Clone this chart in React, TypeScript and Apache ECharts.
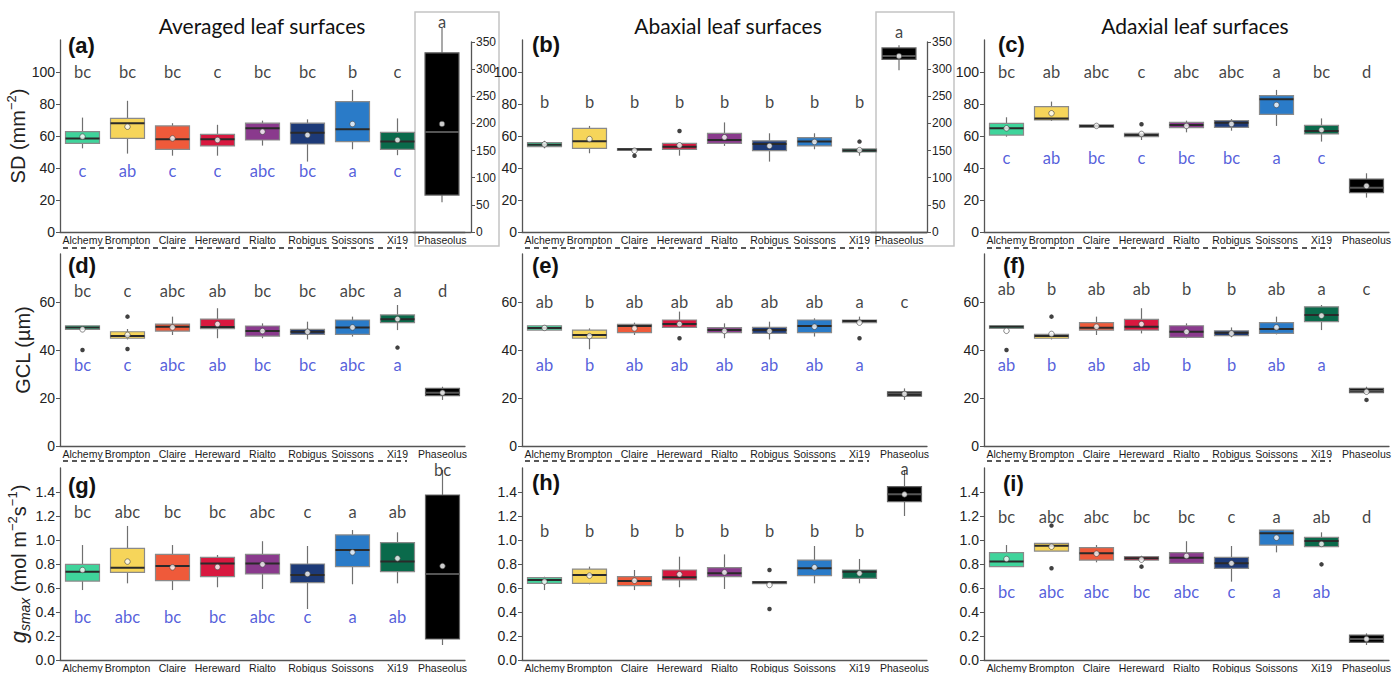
import React, { useEffect, useRef } from 'react';
import * as echarts from 'echarts';

const CATEGORIES = ['Alchemy', 'Brompton', 'Claire', 'Hereward', 'Rialto', 'Robigus', 'Soissons', 'Xi19', 'Phaseolus'];
const COLORS = ['#3fd49b', '#f6d55a', '#ef5a3a', '#d8183f', '#8a3a8d', '#1d3a78', '#2a7bc8', '#0a6a4b', '#000000'];

// Box statistics per category: [min, Q1, median, Q3, max]
const A_BOX = [[52.3, 55.4, 58.5, 62.7, 71.5], [49, 58.5, 68, 71, 82], [47.7, 51.7, 58, 66.3, 68], [47.7, 53.8, 58, 61, 67], [54, 57.5, 64.8, 68, 69.6], [44, 55, 62, 68, 70.4], [51.7, 56.5, 64.2, 81.5, 88.8], [48, 51.7, 56.5, 62.3, 71], [55, 68, 184, 330, 376]];
const A_MEAN = [59.6, 65.8, 58.5, 57.5, 62.7, 60.6, 67.5, 57.5, 199];
const A_OUT: number[][] = [];
const A_TOP = ['bc', 'bc', 'bc', 'c', 'bc', 'bc', 'b', 'c', 'a'];
const A_BOT = ['c', 'ab', 'c', 'c', 'abc', 'bc', 'a', 'c'];

const B_BOX = [[52.3, 53.3, 54.6, 55.8, 57], [49.2, 52.3, 56.7, 64.8, 66.3], [51, 51, 51.7, 52.1, 52.1], [47.7, 51.7, 53.3, 55.4, 55.4], [53.8, 55.4, 57.5, 61.7, 68.5], [44, 50.8, 55, 57, 61.7], [51.7, 53.8, 56.5, 59, 61.7], [47.7, 50, 51, 51.9, 51.9], [298, 318, 324, 339, 344]];
const B_MEAN = [54.8, 58.1, 50.8, 54.2, 59.2, 53.8, 56.3, 51.2, 324];
const B_OUT = [[2, 47.7], [3, 63.1], [7, 56.5]];
const B_TOP = ['b', 'b', 'b', 'b', 'b', 'b', 'b', 'b', 'a'];
const B_BOT: string[] = [];

const C_BOX = [[59.6, 60.6, 64.8, 67.9, 71.7], [69.4, 70, 71, 78.3, 81.5], [65, 65.4, 66.3, 66.9, 67.3], [57.5, 59.6, 60.6, 61.7, 61.7], [62.3, 65.2, 66.9, 68.5, 69.6], [63.3, 65.4, 68.3, 69.6, 70.6], [66.3, 73.5, 82.9, 85.2, 88.8], [56.5, 61.3, 63.1, 66.7, 71], [21.5, 24.6, 27.7, 33.1, 36.7]];
const C_MEAN = [64.8, 74.2, 66.3, 61.3, 66.3, 67.5, 79.4, 63.8, 28.8];
const C_OUT = [[3, 67.3]];
const C_TOP = ['bc', 'ab', 'abc', 'c', 'abc', 'abc', 'a', 'bc', 'd'];
const C_BOT = ['c', 'ab', 'bc', 'c', 'bc', 'bc', 'a', 'c'];

const D_BOX = [[48.6, 48.6, 49.4, 50.1, 50.1], [44.4, 44.9, 45.8, 47.6, 48.75], [46.25, 47.9, 49.7, 50.8, 53.9], [44.9, 48.9, 49.6, 52.9, 57.4], [44.9, 45.8, 47.9, 50, 51.1], [44.4, 46.5, 47.6, 48.6, 51.8], [45.6, 46.5, 49.4, 52.5, 53.9], [48.3, 51.4, 52.8, 54.6, 58.75], [19.2, 21, 22.2, 24, 24.7]];
const D_MEAN = [48.6, 46.3, 49.4, 50.8, 47.9, 47.6, 49.4, 52.9, 22.2];
const D_OUT = [[0, 40], [1, 53.9], [1, 40.4], [7, 41]];
const D_TOP = ['bc', 'c', 'abc', 'ab', 'bc', 'bc', 'abc', 'a', 'd'];
const D_BOT = ['bc', 'c', 'abc', 'ab', 'bc', 'bc', 'abc', 'a'];

const E_BOX = [[48, 48.3, 49.2, 50.1, 50.4], [40.3, 44.9, 46.25, 48.3, 49], [46.25, 47.2, 50, 50.7, 51.4], [49.4, 49.4, 50.8, 52.5, 56], [44.9, 47.2, 48.3, 49.3, 51.1], [44.4, 46.9, 48.3, 49.4, 51.8], [45.6, 47.2, 50, 52.5, 53.2], [51.4, 51.4, 52.1, 52.5, 53.9], [19.2, 20.8, 21.9, 22.6, 24]];
const E_MEAN = [49.2, 45.8, 49, 50.8, 47.9, 47.9, 49.7, 51.4, 21.7];
const E_OUT = [[3, 44.9], [7, 44.9]];
const E_TOP = ['ab', 'b', 'ab', 'ab', 'ab', 'ab', 'ab', 'a', 'c'];
const E_BOT = ['ab', 'b', 'ab', 'ab', 'ab', 'ab', 'ab', 'a'];

const F_BOX = [[49, 49, 49.7, 50.1, 50.1], [44.4, 44.9, 45.8, 46.5, 46.9], [46.25, 48.3, 49.3, 51.4, 53.9], [46.9, 48.3, 49.7, 52.8, 57.4], [44.9, 45.3, 47.6, 50.1, 51.1], [45.3, 46, 47.2, 48, 49.4], [46.5, 46.9, 48.75, 51.4, 53.9], [48.3, 51.8, 54.6, 58, 58.75], [22.2, 22.2, 23, 24, 24.7]];
const F_MEAN = [48, 46.7, 49.7, 50.8, 47.6, 46.9, 49.4, 54.3, 22.6];
const F_OUT = [[0, 40], [1, 53.9], [8, 19.2]];
const F_TOP = ['ab', 'b', 'ab', 'ab', 'b', 'b', 'ab', 'a', 'c'];
const F_BOT = ['ab', 'b', 'ab', 'ab', 'b', 'b', 'ab', 'a'];

const G_BOX = [[0.583, 0.658, 0.736, 0.797, 0.958], [0.639, 0.73, 0.769, 0.93, 1.117], [0.583, 0.661, 0.783, 0.88, 0.958], [0.606, 0.694, 0.805, 0.855, 0.875], [0.592, 0.717, 0.805, 0.88, 0.99], [0.425, 0.644, 0.708, 0.8, 0.95], [0.631, 0.778, 0.917, 1.042, 1.083], [0.639, 0.736, 0.82, 0.978, 1.064], [0.125, 0.175, 0.717, 1.375, 1.583]];
const G_MEAN = [0.75, 0.82, 0.772, 0.775, 0.797, 0.717, 0.897, 0.847, 0.783];
const G_OUT: number[][] = [];
const G_TOP = ['bc', 'abc', 'bc', 'bc', 'abc', 'c', 'a', 'ab', 'bc'];
const G_BOT = ['bc', 'abc', 'bc', 'bc', 'abc', 'c', 'a', 'ab'];

const H_BOX = [[0.583, 0.639, 0.667, 0.686, 0.694], [0.631, 0.639, 0.708, 0.758, 0.778], [0.583, 0.619, 0.658, 0.694, 0.75], [0.606, 0.667, 0.689, 0.75, 0.861], [0.592, 0.694, 0.722, 0.769, 0.88], [0.636, 0.636, 0.647, 0.653, 0.653], [0.639, 0.703, 0.764, 0.833, 0.95], [0.639, 0.681, 0.736, 0.75, 0.842], [1.2, 1.319, 1.381, 1.444, 1.583]];
const H_MEAN = [0.653, 0.703, 0.661, 0.714, 0.73, 0.625, 0.772, 0.722, 1.38];
const H_OUT = [[5, 0.75], [5, 0.425]];
const H_TOP = ['b', 'b', 'b', 'b', 'b', 'b', 'b', 'b', 'a'];
const H_BOT: string[] = [];

const I_BOX = [[0.778, 0.778, 0.82, 0.894, 0.958], [0.908, 0.908, 0.953, 0.972, 0.972], [0.814, 0.833, 0.889, 0.936, 0.958], [0.833, 0.833, 0.847, 0.861, 0.869], [0.806, 0.806, 0.853, 0.894, 0.99], [0.653, 0.764, 0.806, 0.855, 0.95], [0.897, 0.958, 1.056, 1.083, 1.083], [0.944, 0.944, 0.992, 1.022, 1.064], [0.125, 0.147, 0.175, 0.208, 0.222]];
const I_MEAN = [0.842, 0.944, 0.886, 0.836, 0.867, 0.806, 1.019, 0.967, 0.175];
const I_OUT = [[1, 1.12], [1, 0.764], [3, 0.778], [7, 0.797]];
const I_TOP = ['bc', 'abc', 'abc', 'bc', 'bc', 'c', 'a', 'ab', 'd'];
const I_BOT = ['bc', 'abc', 'abc', 'bc', 'abc', 'c', 'a', 'ab'];

// Letter heights (data units): wheat top letters, Phaseolus top letter, bottom (blue) letters
const TOP_Y = [100, 81.5, 100, 64.7, 60, 65.4, 1.236, 1.075, 1.194];
const PHAS_Y = [387, 368, 100, 64.7, 60, 65.4, 1.585, 1.59, 1.194];
const BOT_Y = [38, 0, 46.5, 33.75, 33.75, 33.75, 0.361, 0, 0.569];

const ROW_MAX = [120, 80, 1.6];
const ROW_TICKS = [[0, 20, 40, 60, 80, 100], [0, 20, 40, 60], [0, 0.2, 0.4, 0.6, 0.8, 1.0, 1.2, 1.4]];
const INSET_MAX = 350;
const INSET_TICKS = [0, 50, 100, 150, 200, 250, 300, 350];

const TITLES = ['Averaged leaf surfaces', 'Abaxial leaf surfaces', 'Adaxial leaf surfaces'];
const TAGS = ['(a)', '(b)', '(c)', '(d)', '(e)', '(f)', '(g)', '(h)', '(i)'];

// Layout
const ROW_TOPS = [40, 254, 468];
const ROW_H = 192;
const COL_LEFTS = [60, 522, 984];
const COL_W = 405;
const INSETS = [{ left: 413, width: 58 }, { left: 871, width: 56 }];
const INSET_RECTS = [[415, 12, 84, 234], [876, 12, 78, 234]];
const TITLE_X = [262, 728, 1195];
const TAG_POS = [[68, 45], [532, 44], [998, 44], [68, 265], [532, 265], [1003, 265], [68, 485], [532, 482], [1003, 483]];
const BOX_W = 34;
const BLUE = '#2a36d2';
const AXIS_C = '#555';
const LETTER_FONT = 'Lato';
const TICK_FONT = '"Liberation Sans", Arial, sans-serif';
const CAT_FONT = '"Liberation Sans", Arial, sans-serif';

const Y_NAMES = [
  '{t|SD (mm}{s|−2}{t|)}',
  '{t|GCL (µm)}',
  '{g|g}{b|smax}{t| (mol m}{s|−2}{t|s}{s|−1}{t|)}',
];

const PANELS = [
  { box: A_BOX, mean: A_MEAN, out: A_OUT, top: A_TOP, bot: A_BOT },
  { box: B_BOX, mean: B_MEAN, out: B_OUT, top: B_TOP, bot: B_BOT },
  { box: C_BOX, mean: C_MEAN, out: C_OUT, top: C_TOP, bot: C_BOT },
  { box: D_BOX, mean: D_MEAN, out: D_OUT, top: D_TOP, bot: D_BOT },
  { box: E_BOX, mean: E_MEAN, out: E_OUT, top: E_TOP, bot: E_BOT },
  { box: F_BOX, mean: F_MEAN, out: F_OUT, top: F_TOP, bot: F_BOT },
  { box: G_BOX, mean: G_MEAN, out: G_OUT, top: G_TOP, bot: G_BOT },
  { box: H_BOX, mean: H_MEAN, out: H_OUT, top: H_TOP, bot: H_BOT },
  { box: I_BOX, mean: I_MEAN, out: I_OUT, top: I_TOP, bot: I_BOT },
];

const renderBox = (params: any, api: any) => {
  const xi = api.value(0);
  const lo = api.coord([xi, api.value(1)]);
  const q1 = api.coord([xi, api.value(2)]);
  const md = api.coord([xi, api.value(3)]);
  const q3 = api.coord([xi, api.value(4)]);
  const hi = api.coord([xi, api.value(5)]);
  const ci = api.value(6);
  const black = ci === 8;
  const cx = lo[0];
  const hw = BOX_W / 2;
  const wStyle = { stroke: '#707070', lineWidth: 1.2 };
  return {
    type: 'group',
    children: [
      { type: 'line', shape: { x1: cx, y1: hi[1], x2: cx, y2: q3[1] }, style: wStyle },
      { type: 'line', shape: { x1: cx, y1: q1[1], x2: cx, y2: lo[1] }, style: wStyle },
      {
        type: 'rect',
        shape: { x: cx - hw, y: q3[1], width: hw * 2, height: Math.max(q1[1] - q3[1], 1.5) },
        style: { fill: COLORS[ci], stroke: black ? '#666' : '#8a8a8a', lineWidth: 1.2 },
      },
      {
        type: 'line',
        shape: { x1: cx - hw, y1: md[1], x2: cx + hw, y2: md[1] },
        style: { stroke: black ? '#555' : '#2a2a2a', lineWidth: 2 },
      },
    ],
  };
};

const fmtRow = (row: number) => (v: number) => (row === 2 ? v.toFixed(1) : String(v));

function letterSeries(xIdx: number, data: number[][], texts: string[], color: string) {
  return {
    type: 'scatter',
    xAxisIndex: xIdx,
    yAxisIndex: xIdx,
    data,
    symbol: 'circle',
    symbolSize: 1,
    itemStyle: { color: 'rgba(0,0,0,0)' },
    clip: false,
    silent: true,
    z: 4,
    label: {
      show: true,
      position: 'inside',
      formatter: (p: any) => texts[p.dataIndex],
      fontFamily: LETTER_FONT,
      fontSize: 16.5,
      color,
    },
  };
}

function meanSeries(xIdx: number, data: number[][]) {
  return {
    type: 'scatter',
    xAxisIndex: xIdx,
    yAxisIndex: xIdx,
    data,
    symbol: 'circle',
    symbolSize: 5.5,
    clip: false,
    silent: true,
    z: 5,
    itemStyle: { color: '#ffffff', borderColor: '#444', borderWidth: 0.8 },
  };
}

function buildOption() {
  const grid: any[] = [];
  const xAxis: any[] = [];
  const yAxis: any[] = [];
  const series: any[] = [];

  const catAxisBase = {
    type: 'category',
    axisLine: { lineStyle: { color: AXIS_C, width: 1.3 } },
    axisTick: { alignWithLabel: true, length: 3, lineStyle: { color: AXIS_C } },
    splitLine: { show: false },
  };
  const valAxisBase = {
    type: 'value',
    min: 0,
    axisLine: { show: true, lineStyle: { color: AXIS_C, width: 1.3 } },
    axisTick: { show: true, length: 4, lineStyle: { color: AXIS_C } },
    splitLine: { show: false },
  };
  const catLabel = { interval: 0, margin: 2, fontSize: 10.5, fontFamily: CAT_FONT, color: '#1a1a1a' };

  PANELS.forEach((p, i) => {
    const row = Math.floor(i / 3);
    const col = i % 3;
    const hasInset = i < 2;
    grid.push({ left: COL_LEFTS[col], top: ROW_TOPS[row], width: COL_W, height: ROW_H });
    xAxis.push({
      ...catAxisBase,
      gridIndex: i,
      data: CATEGORIES,
      axisLabel: {
        ...catLabel,
        formatter: (v: string) => (hasInset && v === 'Phaseolus' ? '' : v),
      },
    });
    yAxis.push({
      ...valAxisBase,
      gridIndex: i,
      max: ROW_MAX[row],
      axisLabel: {
        customValues: ROW_TICKS[row],
        formatter: fmtRow(row),
        fontSize: 14,
        fontFamily: TICK_FONT,
        color: '#222',
        margin: 5,
      },
      axisTick: { ...valAxisBase.axisTick, customValues: ROW_TICKS[row] },
      name: col === 0 ? Y_NAMES[row] : '',
      nameLocation: 'middle',
      nameRotate: 90,
      nameGap: 24,
      nameTextStyle: {
        rich: {
          t: { fontSize: 20, fontFamily: TICK_FONT, color: '#222', lineHeight: 26 },
          s: { fontSize: 13, fontFamily: TICK_FONT, color: '#222', lineHeight: 13, verticalAlign: 'top' },
          g: { fontSize: 22, fontFamily: TICK_FONT, fontStyle: 'italic', color: '#222', lineHeight: 26 },
          b: { fontSize: 14, fontFamily: TICK_FONT, fontStyle: 'italic', color: '#222', lineHeight: 12, verticalAlign: 'bottom' },
        },
      },
    });

    const n = hasInset ? 8 : 9;
    const boxData = p.box.slice(0, n).map((b, k) => [k, ...b, k]);
    series.push({
      type: 'custom',
      xAxisIndex: i,
      yAxisIndex: i,
      renderItem: renderBox,
      data: boxData,
      encode: { x: 0, y: [1, 2, 3, 4, 5] },
      clip: false,
      silent: true,
      z: 2,
    });
    series.push(meanSeries(i, p.mean.slice(0, n).map((m, k) => [k, m])));
    if (p.out.length) {
      series.push({
        type: 'scatter',
        xAxisIndex: i,
        yAxisIndex: i,
        data: p.out,
        symbol: 'circle',
        symbolSize: 4.5,
        clip: false,
        silent: true,
        z: 5,
        itemStyle: { color: '#111' },
      });
    }
    const topData = p.top.slice(0, n).map((_, k) => [k, k === 8 ? PHAS_Y[i] : TOP_Y[i]]);
    series.push(letterSeries(i, topData, p.top.slice(0, n), '#111'));
    if (p.bot.length) {
      series.push(letterSeries(i, p.bot.map((_, k) => [k, BOT_Y[i]]), p.bot, BLUE));
    }
  });

  // Insets for Phaseolus in (a) and (b)
  INSETS.forEach((ins, j) => {
    const gi = 9 + j;
    const p = PANELS[j];
    grid.push({ left: ins.left, top: ROW_TOPS[0] + 2, width: ins.width, height: ROW_H - 2 });
    xAxis.push({
      ...catAxisBase,
      gridIndex: gi,
      data: ['Phaseolus'],
      axisLabel: catLabel,
    });
    yAxis.push({
      ...valAxisBase,
      gridIndex: gi,
      position: 'right',
      max: INSET_MAX,
      axisLabel: { customValues: INSET_TICKS, fontSize: 12, fontFamily: TICK_FONT, color: '#222', margin: 5 },
      axisTick: { ...valAxisBase.axisTick, customValues: INSET_TICKS },
    });
    series.push({
      type: 'custom',
      xAxisIndex: gi,
      yAxisIndex: gi,
      renderItem: renderBox,
      data: [[0, ...p.box[8], 8]],
      encode: { x: 0, y: [1, 2, 3, 4, 5] },
      clip: false,
      silent: true,
      z: 2,
    });
    series.push(meanSeries(gi, [[0, p.mean[8]]]));
    series.push(letterSeries(gi, [[0, PHAS_Y[j]]], [p.top[8]], '#111'));
  });

  const graphic: any[] = [];
  TITLES.forEach((t, c) => {
    graphic.push({
      type: 'text',
      x: TITLE_X[c],
      y: 25,
      style: { text: t, fontSize: 21, fontFamily: LETTER_FONT, fill: '#111', align: 'center', verticalAlign: 'middle' },
    });
  });
  TAGS.forEach((t, i) => {
    graphic.push({
      type: 'text',
      x: TAG_POS[i][0],
      y: TAG_POS[i][1],
      style: { text: t, fontSize: 22, fontWeight: 'bold', fontFamily: TICK_FONT, fill: '#111', align: 'left', verticalAlign: 'middle' },
    });
  });
  INSET_RECTS.forEach((r) => {
    graphic.push({
      type: 'rect',
      shape: { x: r[0], y: r[1], width: r[2], height: r[3] },
      style: { fill: 'none', stroke: '#c4c4c4', lineWidth: 1.5 },
      silent: true,
    });
  });
  [248, 461].forEach((yy) => {
    COL_LEFTS.forEach((l) => {
      graphic.push({
        type: 'line',
        shape: { x1: l + 3, y1: yy, x2: l + 347, y2: yy },
        style: { stroke: '#222', lineWidth: 1.5, lineDash: [5, 4] },
        silent: true,
      });
    });
  });

  return {
    animation: false,
    backgroundColor: '#ffffff',
    grid,
    xAxis,
    yAxis,
    series,
    graphic,
  };
}

export default function App() {
  const ref = useRef<HTMLDivElement>(null);
  useEffect(() => {
    document.body.style.margin = '0';
    if (!ref.current) return;
    const chart = echarts.init(ref.current, undefined, { renderer: 'svg' });
    chart.setOption(buildOption() as any);
    return () => chart.dispose();
  }, []);
  return <div ref={ref} style={{ width: 1397, height: 673 }} />;
}
